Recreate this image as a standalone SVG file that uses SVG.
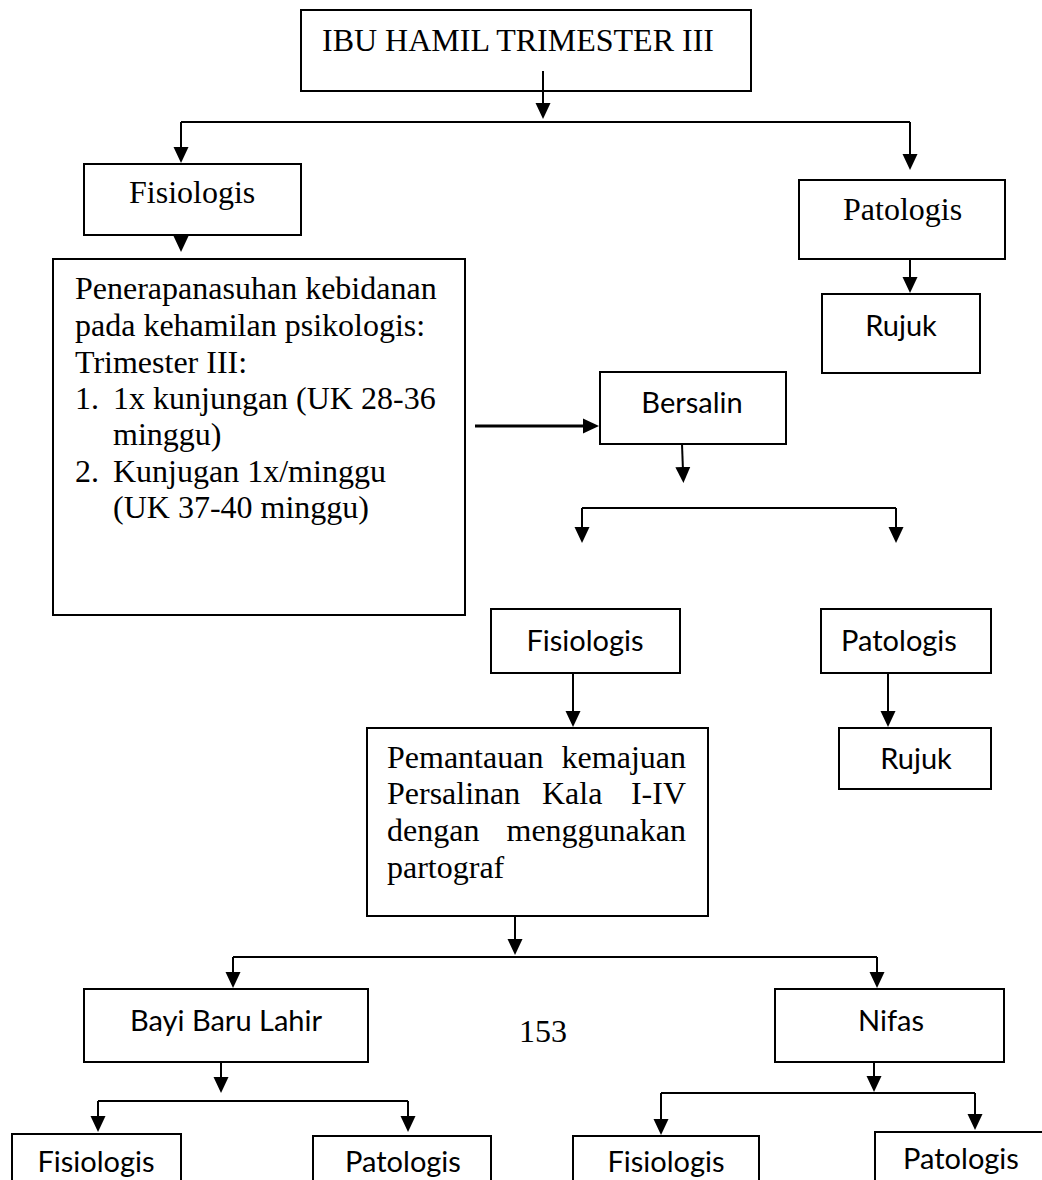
<svg xmlns="http://www.w3.org/2000/svg" width="1042" height="1180" viewBox="0 0 1042 1180">
<defs>
<style>
.box{fill:#fff;stroke:#000;stroke-width:2}
.ser{font-family:"Liberation Serif","Times New Roman",serif;font-size:32px;fill:#000}
.san{font-family:Lato,"Open Sans",sans-serif;font-size:29px;fill:#000;text-anchor:middle}
.end{text-anchor:end}
.con line{stroke:#000;stroke-width:2;fill:none}
.con .arr{marker-end:url(#ah)}
</style>
<marker id="ah" viewBox="0 0 16 16" refX="4" refY="8" markerWidth="16" markerHeight="16" orient="auto" markerUnits="userSpaceOnUse">
<path d="M0,0.5 L16,8 L0,15.5 z" fill="#000"/>
</marker>
</defs>
<rect width="1042" height="1180" fill="#fff"/>

<g id="n-top"><rect class="box" x="301" y="10" width="450" height="81"/><text class="ser" x="322" y="51">IBU HAMIL TRIMESTER III</text></g>
<g id="n-fis1"><rect class="box" x="84" y="164" width="217" height="71"/><text class="ser" x="129" y="203">Fisiologis</text></g>
<g id="n-pat1"><rect class="box" x="799" y="180" width="206" height="79"/><text class="ser" x="843" y="220">Patologis</text></g>
<g id="n-rujuk1"><rect class="box" x="822" y="294" width="158" height="79"/><text class="san" x="901" y="336">Rujuk</text></g>
<g id="n-asuhan"><rect class="box" x="53" y="259" width="412" height="356"/>
<text class="ser" x="75" y="299">Penerapanasuhan kebidanan</text>
<text class="ser" x="75" y="336">pada kehamilan psikologis:</text>
<text class="ser" x="75" y="373">Trimester III:</text>
<text class="ser" x="75" y="409">1.</text><text class="ser" x="113" y="409">1x kunjungan (UK 28-36</text>
<text class="ser" x="113" y="445">minggu)</text>
<text class="ser" x="75" y="482">2.</text><text class="ser" x="113" y="482">Kunjugan 1x/minggu</text>
<text class="ser" x="113" y="518">(UK 37-40 minggu)</text>
</g>
<g id="n-bersalin"><rect class="box" x="600" y="372" width="186" height="72"/><text class="san" x="692" y="413">Bersalin</text></g>
<g id="n-fis2"><rect class="box" x="491" y="609" width="189" height="64"/><text class="san" x="585" y="651">Fisiologis</text></g>
<g id="n-pat2"><rect class="box" x="821" y="609" width="170" height="64"/><text class="san" x="899" y="651">Patologis</text></g>
<g id="n-rujuk2"><rect class="box" x="839" y="728" width="152" height="61"/><text class="san" x="916" y="769">Rujuk</text></g>
<g id="n-pemantauan"><rect class="box" x="367" y="728" width="341" height="188"/>
<text class="ser" x="387" y="768">Pemantauan</text><text class="ser end" x="686" y="768">kemajuan</text>
<text class="ser" x="387" y="804">Persalinan</text><text class="ser" x="542" y="804">Kala</text><text class="ser end" x="686" y="804">I-IV</text>
<text class="ser" x="387" y="841">dengan</text><text class="ser end" x="686" y="841">menggunakan</text>
<text class="ser" x="387" y="878">partograf</text>
</g>
<g id="n-bayi"><rect class="box" x="84" y="989" width="284" height="73"/><text class="san" x="226" y="1031">Bayi Baru Lahir</text></g>
<g id="n-nifas"><rect class="box" x="775" y="989" width="229" height="73"/><text class="san" x="891" y="1031">Nifas</text></g>
<g id="n-fis3"><rect class="box" x="12" y="1134" width="169" height="60"/><text class="san" x="96" y="1172">Fisiologis</text></g>
<g id="n-pat3"><rect class="box" x="313" y="1136" width="178" height="60"/><text class="san" x="403" y="1172">Patologis</text></g>
<g id="n-fis4"><rect class="box" x="573" y="1136" width="186" height="60"/><text class="san" x="666" y="1172">Fisiologis</text></g>
<g id="n-pat4"><rect class="box" x="875" y="1132" width="180" height="60"/><text class="san" x="961" y="1169">Patologis</text></g>

<text class="ser" x="519" y="1042">153</text>

<g id="connectors" class="con">
<line class="arr" x1="543" y1="71" x2="543" y2="107"/>
<line x1="181" y1="122" x2="910" y2="122"/>
<line class="arr" x1="181" y1="122" x2="181" y2="151"/>
<line class="arr" x1="910" y1="122" x2="910" y2="158"/>
<line class="arr" x1="181" y1="236" x2="181" y2="240"/>
<line class="arr" x1="910" y1="259" x2="910" y2="281"/>
<line class="arr" x1="475" y1="426" x2="587" y2="426" style="stroke-width:3"/>
<line class="arr" x1="682" y1="444" x2="683" y2="471"/>
<line x1="582" y1="508" x2="896" y2="508"/>
<line class="arr" x1="582" y1="508" x2="582" y2="531"/>
<line class="arr" x1="896" y1="508" x2="896" y2="531"/>
<line class="arr" x1="573" y1="673" x2="573" y2="715"/>
<line class="arr" x1="888" y1="673" x2="888" y2="715"/>
<line class="arr" x1="515" y1="916" x2="515" y2="943"/>
<line x1="233" y1="957" x2="877" y2="957"/>
<line class="arr" x1="233" y1="957" x2="233" y2="976"/>
<line class="arr" x1="877" y1="957" x2="877" y2="976"/>
<line class="arr" x1="221" y1="1062" x2="221" y2="1081"/>
<line x1="98" y1="1101" x2="408" y2="1101"/>
<line class="arr" x1="98" y1="1101" x2="98" y2="1120"/>
<line class="arr" x1="408" y1="1101" x2="408" y2="1120"/>
<line class="arr" x1="874" y1="1062" x2="874" y2="1080"/>
<line x1="661" y1="1093" x2="975" y2="1093"/>
<line class="arr" x1="661" y1="1093" x2="661" y2="1123"/>
<line class="arr" x1="975" y1="1093" x2="975" y2="1118"/>
</g>
</svg>
